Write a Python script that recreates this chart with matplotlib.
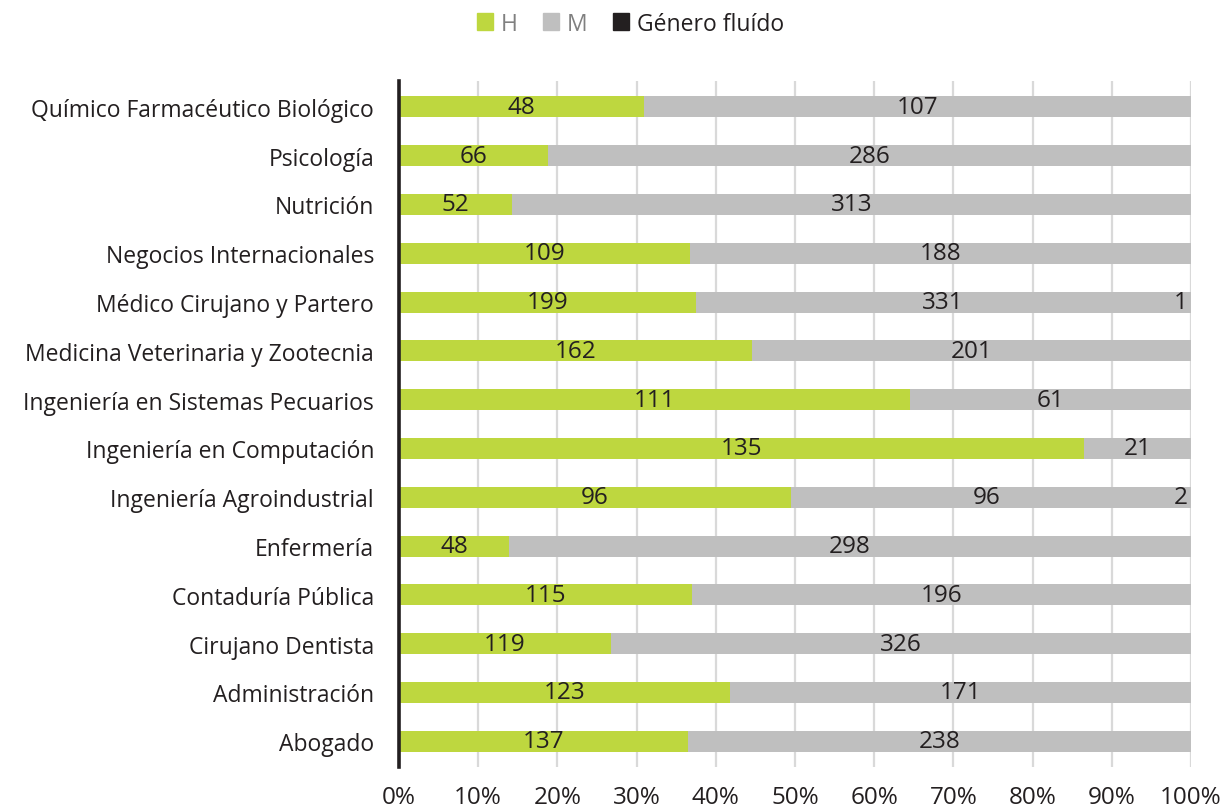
import matplotlib.pyplot as plt
from matplotlib.patches import Patch
import numpy as np

plt.rcParams['font.family'] = ['Open Sans', 'DejaVu Sans']

carreras = ['Químico Farmacéutico Biológico', 'Psicología', 'Nutrición',
            'Negocios Internacionales', 'Médico Cirujano y Partero',
            'Medicina Veterinaria y Zootecnia', 'Ingeniería en Sistemas Pecuarios',
            'Ingeniería en Computación', 'Ingeniería Agroindustrial', 'Enfermería',
            'Contaduría Pública', 'Cirujano Dentista', 'Administración', 'Abogado']
hombres = [48, 66, 52, 109, 199, 162, 111, 135, 96, 48, 115, 119, 123, 137]
mujeres = [107, 286, 313, 188, 331, 201, 61, 21, 96, 298, 196, 326, 171, 238]
fluido = [0, 0, 0, 0, 1, 0, 0, 0, 2, 0, 0, 0, 0, 0]

verde = '#BED73F'
gris = '#BFBFBF'
negro = '#231F20'
txt = '#231F20'

h = np.array(hombres, dtype=float)
m = np.array(mujeres, dtype=float)
f = np.array(fluido, dtype=float)
tot = h + m + f
ph, pm, pf = h / tot, m / tot, f / tot

# top category first
y = np.arange(len(carreras))[::-1]

fig = plt.figure(figsize=(12.24, 8.12), dpi=100)
ax = fig.add_axes([0.326, 0.054, 0.647, 0.845])

bh = 0.43
ax.barh(y, ph, height=bh, color=verde, zorder=3)
ax.barh(y, pm, left=ph, height=bh, color=gris, zorder=3)
# the fluid segment is practically invisible in the original
ax.barh(y, pf, left=ph + pm, height=bh, color=gris, zorder=3)

fs = 16.5
fn = 17.5
for i in range(len(carreras)):
    ax.text(ph[i] / 2, y[i], str(hombres[i]), ha='center', va='center',
            fontsize=fn, color=txt, zorder=4)
    ax.text(ph[i] + pm[i] / 2, y[i], str(mujeres[i]), ha='center', va='center',
            fontsize=fn, color=txt, zorder=4)
    if fluido[i] > 0:
        ax.text(1.0 - 0.004, y[i], str(fluido[i]), ha='right', va='center',
                fontsize=fn, color=txt, zorder=4)

ax.set_xlim(0, 1)
ax.set_ylim(-0.53, len(carreras) - 0.47)
ax.set_xticks(np.arange(0, 1.01, 0.1))
ax.set_xticklabels([f'{int(round(v * 100))}%' for v in np.arange(0, 1.01, 0.1)])
ax.set_yticks(y)
ax.set_yticklabels(carreras)
ax.tick_params(axis='both', length=0, labelsize=fs, colors=txt)
ax.tick_params(axis='x', pad=13, labelsize=fn)
ax.tick_params(axis='y', pad=18)

ax.xaxis.grid(True, color='#D9D9D9', linewidth=1.6, zorder=0)
ax.set_axisbelow(True)
for s in ['top', 'right', 'bottom']:
    ax.spines[s].set_visible(False)
ax.spines['left'].set_color(negro)
ax.spines['left'].set_linewidth(2.6)
ax.spines['left'].set_zorder(5)

handles = [Patch(color=verde), Patch(color=gris), Patch(color=negro)]
leg = fig.legend(handles, ['H', 'M', 'Género fluído'], loc='upper center',
                 bbox_to_anchor=(0.515, 1.01), ncol=3, frameon=False,
                 fontsize=fs, handlelength=0.7, handleheight=0.7, handletextpad=0.35,
                 columnspacing=1.1)
for t, c in zip(leg.get_texts(), ['#808080', '#808080', txt]):
    t.set_color(c)

fig.savefig('out.png', dpi=100)
